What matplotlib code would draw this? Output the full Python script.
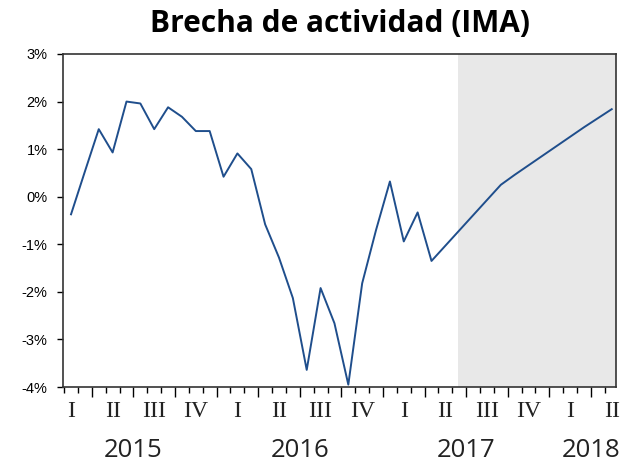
import matplotlib.pyplot as plt
import numpy as np

# brecha mensual, feb-2015 .. may-2018 (%)
brecha = [-0.37, 0.53, 1.42, 0.93, 2.00, 1.96, 1.42, 1.88, 1.68, 1.38,
          1.38, 0.42, 0.91, 0.58, -0.58, -1.28, -2.13, -3.64, -1.92, -2.66,
          -3.95, -1.82, -0.70, 0.32, -0.94, -0.33, -1.35, -1.03, -0.71, -0.39,
          -0.07, 0.25, 0.46, 0.66, 0.86, 1.06, 1.26, 1.46, 1.65, 1.84]
trimestres = ["I", "II", "III", "IV"] * 3 + ["I", "II"]
anios = ["2015", "2016", "2017", "2018"]
inicio_proyeccion = 27.9  # mes desde el que se sombrea
yticks = [-4, -3, -2, -1, 0, 1, 2, 3]

meses = np.arange(len(brecha))

fig = plt.figure(figsize=(6.24, 4.65), dpi=100)
ax = fig.add_axes([0.1005, 0.1677, 0.8865, 0.7162])

xmin, xmax = -0.6, 39.3
ax.axvspan(inicio_proyeccion, xmax, color="#e8e8e8", lw=0)
ax.plot(meses, brecha, color="#1f4e8c", lw=1.4)

ax.set_xlim(xmin, xmax)
ax.set_ylim(-4, 3)
ax.set_yticks(yticks)
ax.set_yticklabels([f"{v}%" for v in yticks], fontsize=10.5, family="Liberation Sans")
ax.tick_params(axis="y", length=4, width=1, pad=7)

# ticks: mayores en cambio de trimestre, menores en cambio de mes
ax.set_xticks(np.arange(1.5, 39, 3))
ax.set_xticks(np.arange(-0.5, 39.5, 1), minor=True)
ax.set_xticklabels([])
ax.tick_params(axis="x", which="major", length=7, width=1)
ax.tick_params(axis="x", which="minor", length=4, width=1)

for s in ax.spines.values():
    s.set_linewidth(1.2)
    s.set_color("#333333")

trans = ax.get_xaxis_transform()
for i, t in enumerate(trimestres):
    ax.text(3 * i, -0.075, t, transform=trans, ha="center", va="center",
            fontsize=17, family="Liberation Serif", color="#222222")
pos_anio = [4.5, 16.5, 28.5, 37.5]
for p, a in zip(pos_anio, anios):
    ax.text(p, -0.19, a, transform=trans, ha="center", va="center",
            fontsize=18.5, family="Open Sans", color="#222222")

fig.text(0.545, 0.948, "Brecha de actividad (IMA)", ha="center", va="center",
         fontsize=21.5, fontweight="bold", family="Open Sans")

fig.savefig("out.png", dpi=100)
